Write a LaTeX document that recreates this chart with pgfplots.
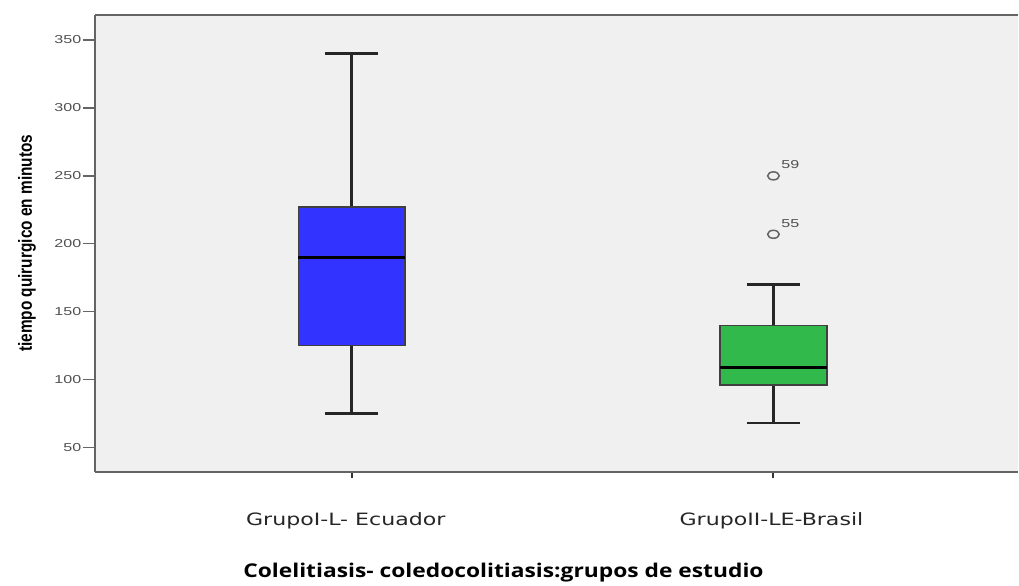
\documentclass[border=0pt]{standalone}
\usepackage{fontspec}
\setmainfont{Liberation Sans}
\newfontfamily\tickfont[FakeStretch=1.4]{Liberation Sans}
\newfontfamily\catfont[FakeStretch=1.3]{DejaVu Sans}
\newfontfamily\titlefont[FakeStretch=1.2]{Open Sans}
\newfontfamily\ylabfont[FakeStretch=0.81]{Liberation Sans}
\usepackage{pgfplots}
\pgfplotsset{compat=1.18}
\usepgfplotslibrary{statistics}
\definecolor{bg}{RGB}{240,240,240}
\definecolor{framegray}{RGB}{100,100,100}
\definecolor{boxblue}{RGB}{51,51,255}
\definecolor{boxgreen}{RGB}{50,185,75}
\definecolor{ticktext}{RGB}{80,80,80}
\begin{document}
\begin{tikzpicture}
\begin{axis}[
  scale only axis, width=924pt, height=457pt,
  xmin=0.391, xmax=2.58, ymin=32.4, ymax=368.4,
  axis x line*=bottom, axis y line*=left,
  axis line style={framegray, line width=2pt},
  axis background/.style={fill=bg},
  tick align=outside,
  major tick length=12pt,
  xtick={1,2},
  xticklabels={{GrupoI-L- Ecuador\hspace*{12pt}},{GrupoII-LE-Brasil\hspace*{4pt}}},
  xtick style={/pgfplots/major tick length=6pt, black!80, line width=2pt},
  ytick={50,100,...,350},
  ytick style={framegray, line width=1.3pt},
  /pgf/number format/assume math mode=true,
  yticklabel style={font=\tickfont\fontsize{11.5}{12}\selectfont, text=ticktext, inner sep=1.5pt},
  xticklabel style={font=\catfont\fontsize{17}{19}\selectfont, text=black!85, anchor=center, yshift=-37pt},
  xlabel={Colelitiasis- coledocolitiasis:grupos de estudio},
  every axis x label/.style={at={(axis description cs:0.4426,-0.221)}, anchor=center,
    font=\titlefont\bfseries\fontsize{19}{21}\selectfont},
  ylabel={tiempo quirurgico en minutos},
  every axis y label/.style={at={(axis description cs:-0.0736,0.5)}, rotate=90, anchor=center,
    font=\ylabfont\bfseries\fontsize{19}{21}\selectfont},
  boxplot/draw direction=y,
  boxplot/every median/.style={black, line width=3pt},
  boxplot/every whisker/.style={black!85, line width=2.5pt},
  boxplot/every box/.style={draw=black!75, line width=1.5pt},
  clip=false,
]
% group I: Ecuador
\addplot[boxplot prepared={draw position=1, lower whisker=75, lower quartile=125,
    median=190, upper quartile=227, upper whisker=340,
    box extend=0.2536, whisker extend=0.126},
  fill=boxblue, draw=black!80] coordinates {};
% group II: Brasil
\addplot[boxplot prepared={draw position=2, lower whisker=68, lower quartile=96,
    median=109, upper quartile=140, upper whisker=170,
    box extend=0.2536, whisker extend=0.126},
  fill=boxgreen, draw=black!80] coordinates {};
% outliers with case numbers
\addplot[only marks, mark=o, mark size=4pt,
  mark options={draw=framegray, line width=1.5pt, xscale=1.45},
  nodes near coords, point meta=explicit symbolic,
  every node near coord/.append style={anchor=center, xshift=17pt, yshift=11pt,
    font=\tickfont\fontsize{11.5}{12}\selectfont, text=ticktext}]
  table[meta=label] {
x y label
2 250 59
2 207 55
};
\draw[framegray, line width=2pt] (rel axis cs:0,1) -- (rel axis cs:1,1);
\end{axis}
\path (current axis.south west) ++(-95pt,-113pt) coordinate (bbA);
\path (current axis.north east) ++(0pt,15pt) coordinate (bbB);
\path (bbA) rectangle (bbB);
\end{tikzpicture}
\end{document}
